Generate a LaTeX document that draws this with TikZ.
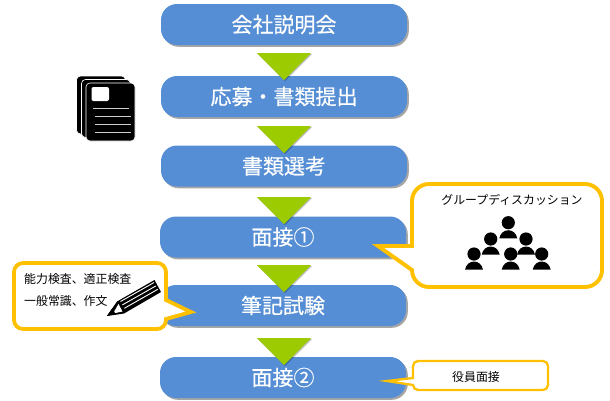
\documentclass[tikz,border=0pt]{standalone}
\usepackage{fontspec}
\setmainfont{Noto Sans CJK JP}
\newfontfamily\boxfont{Noto Sans CJK JP}[FakeBold=0.4]
\usetikzlibrary{shadows}
\definecolor{boxblue}{HTML}{558ED5}
\definecolor{arrowgreen}{HTML}{9BCB00}
\definecolor{calloutorange}{HTML}{FFC000}
\tikzset{
    flowbox/.style={draw=none, fill=boxblue, rounded corners=16pt, minimum width=246pt, minimum height=41pt, inner sep=0, text=white, font=\boxfont\fontsize{21}{24}\selectfont, drop shadow={shadow xshift=1.8pt, shadow yshift=-1.8pt, opacity=0.35, fill=black}},
    flowtri/.style={fill=arrowgreen},
    calloutline/.style={draw=calloutorange, fill=white, line join=miter},
    smalltext/.style={inner sep=0, font=\fontsize{11.9}{14}\selectfont, text=black},
    person/.pic={
        \fill[black] (-9,15.7) .. controls (-7,4.8) and (7,4.8) .. (9,15.7) -- cycle;
        \fill[black] (0,0) circle [radius=6.6pt];
    }
}
\begin{document}
\begin{tikzpicture}[x=1pt, y=-1pt]
    \useasboundingbox (0,0) rectangle (610,400);
    \node[flowbox] (briefing) at (284,24.5) {会社説明会};
    \node[flowbox] (apply) at (284,96.5) {応募・書類提出};
    \node[flowbox] (screening) at (284,166) {書類選考};
    \node[flowbox] (interviewone) at (283,237) {面接①};
    \node[flowbox] (written) at (283,305.5) {筆記試験};
    \node[flowbox] (interviewtwo) at (283,377.5) {面接②};
    % arrows between the steps
    \foreach \y in {53,126,197,265,338}{
        \fill[black, opacity=0.25] (258,\y+1) -- (312,\y+1) -- (285,\y+28) -- cycle;
        \fill[flowtri] (257,\y) -- (311,\y) -- (284,\y+27) -- cycle;
    }
    % document stack
    \foreach \x/\y in {76.5/76,81.5/79.5,86/83}
        \draw[fill=black, draw=white, line width=0.6pt, rounded corners=4pt] (\x,\y) rectangle ++(49,58);
    \fill[white, rounded corners=2pt] (91.5,87) rectangle (109,101);
    \foreach \x/\y in {93/108.7,94.5/116.5,94.5/124,94.5/132}
        \draw[white!80!black, line width=1pt] (\x,\y) -- ++(36,0);
    % callout with the group discussion
    \draw[calloutline, line width=3.9pt] (378,246) -- (412,246) -- (412,201) arc [start angle=180, end angle=90, radius=17pt] -- (585,184) arc [start angle=90, end angle=0, radius=17pt] -- (602,270) arc [start angle=0, end angle=-90, radius=17pt] -- (429,287) arc [start angle=-90, end angle=-180, radius=17pt] -- cycle;
    \node[smalltext] (groupdiscussion) at (512,200) {グループディスカッション};
    \foreach \x/\y in {508.3/222.7,490.7/239,526/239,474/254,510.7/254,541.7/254}
        \pic at (\x,\y) {person};
    % callout with the written tests
    \draw[calloutline, line width=3.8pt] (191,312) -- (166,319) -- (166,320) arc [start angle=0, end angle=-90, radius=9pt] -- (23,329) arc [start angle=-90, end angle=-180, radius=9pt] -- (14,272) arc [start angle=180, end angle=90, radius=9pt] -- (157,263) arc [start angle=90, end angle=0, radius=9pt] -- (166,300) -- cycle;
    \node[smalltext, anchor=west] (aptitude) at (24,279) {能力検査、適正検査};
    \node[smalltext, anchor=west] (generalknowledge) at (24,301) {一般常識、作文};
    % pencil
    \fill[black] (154.5,280) -- (161,292) -- (124,313.5) -- (107,316) -- (117,301.5) -- cycle;
    \fill[white] (118.5,304) -- (122.5,311.5) -- (113,313.5) -- cycle;
    \fill[black] (107,316) -- (112.5,308) -- (115.5,314) -- cycle;
    \foreach \i in {0,1,2}
        \draw[white, line width=0.9pt] (120.5+1.9*\i,301.5+3.4*\i) -- (154+1.9*\i,282.5+3.4*\i);
    % callout with the executive interview
    \draw[calloutline, line width=2.3pt] (387,381) -- (413,378) -- (413,366) arc [start angle=180, end angle=90, radius=5pt] -- (543,361) arc [start angle=90, end angle=0, radius=5pt] -- (548,385) arc [start angle=0, end angle=-90, radius=5pt] -- (418,390) arc [start angle=-90, end angle=-180, radius=5pt] -- cycle;
    \node[smalltext] (executive) at (476,377) {役員面接};
\end{tikzpicture}
\end{document}
